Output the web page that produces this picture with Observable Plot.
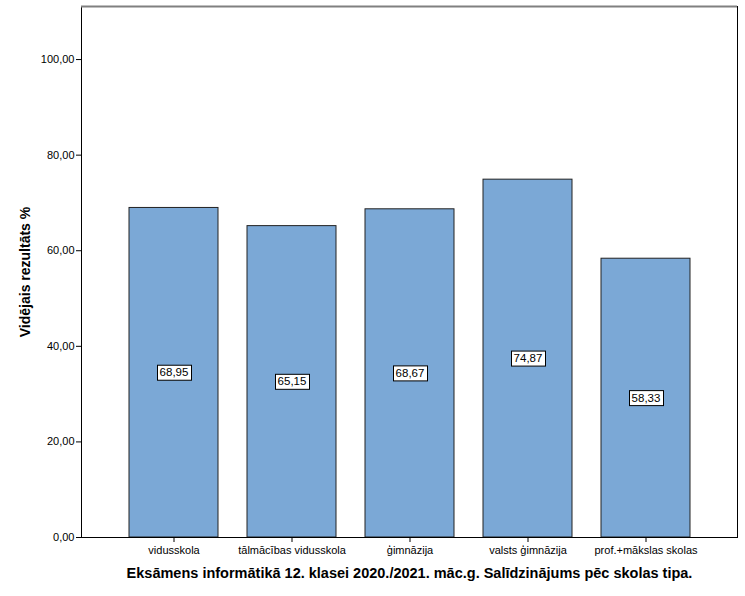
<!DOCTYPE html>
<html>
<head>
<meta charset="utf-8">
<script src="https://cdn.jsdelivr.net/npm/d3@7"></script>
<script src="https://cdn.jsdelivr.net/npm/@observablehq/plot@0.6"></script>
<style>
  html, body { margin: 0; padding: 0; background: #fff; }
  #chart svg { display: block; }
</style>
</head>
<body>
<div id="chart"></div>
<script>
const categories = ["vidusskola", "tālmācības vidusskola", "ģimnāzija", "valsts ģimnāzija", "prof.+mākslas skolas"];
const values = [68.95, 65.15, 68.67, 74.87, 58.33];
const yTicks = [0, 20, 40, 60, 80, 100];
const yTitle = "Vidējais rezultāts %";
const xTitle = "Eksāmens informātikā 12. klasei 2020./2021. māc.g. Salīdzinājums pēc skolas tipa.";

const data = categories.map((c, i) => ({category: c, value: values[i]}));
const fmt = v => v.toFixed(2).replace(".", ",");

const chart = Plot.plot({
  width: 745,
  height: 596,
  marginLeft: 81,
  marginRight: 8,
  marginTop: 6,
  marginBottom: 59,
  style: {fontFamily: "'Liberation Sans', Arial, sans-serif", fontSize: "11px", color: "#000", background: "#fff"},
  x: {domain: categories, paddingInner: 0.25, paddingOuter: 0.395, label: null},
  y: {domain: [0, 111.1], label: null},
  marks: [
    Plot.barY(data, {x: "category", y: "value", fill: "#7ba8d6", stroke: "#222", strokeWidth: 1}),
    Plot.frame({stroke: "#000", strokeWidth: 1}),
    Plot.ruleY([111.1], {stroke: "#808080", strokeWidth: 2}),
    Plot.axisY({ticks: yTicks, tickFormat: fmt, tickSize: 5, tickPadding: 2, label: null, fontSize: 11}),
    Plot.axisX({tickSize: 5, tickPadding: 4, label: null, fontSize: 11}),
    Plot.text(data, {x: "category", y: d => d.value / 2, text: d => fmt(d.value), fill: "#000", fontSize: 11.5}),
    Plot.text([yTitle], {frameAnchor: "left", dx: -56, rotate: -90, textAnchor: "middle", fontWeight: "bold", fontSize: 14, fill: "#000"}),
    Plot.text([xTitle], {frameAnchor: "bottom", dy: 40, textAnchor: "middle", fontWeight: "bold", fontSize: 14.5, fill: "#000"})
  ]
});

document.getElementById("chart").appendChild(chart);

// white boxes behind the value labels, sized from the rendered text
const labelSet = new Set(values.map(fmt));
chart.querySelectorAll("text").forEach(t => {
  if (!labelSet.has(t.textContent)) return;
  const b = t.getBBox();
  const r = document.createElementNS("http://www.w3.org/2000/svg", "rect");
  r.setAttribute("x", Math.round(b.x) - 2.5);
  r.setAttribute("y", Math.round(b.y) - 1.5);
  r.setAttribute("width", Math.round(b.width) + 5);
  r.setAttribute("height", Math.round(b.height) + 3);
  r.setAttribute("fill", "#fff");
  r.setAttribute("stroke", "#000");
  r.setAttribute("stroke-width", "1");
  const tr = t.getAttribute("transform");
  if (tr) r.setAttribute("transform", tr);
  t.parentNode.insertBefore(r, t);
});
</script>
</body>
</html>
